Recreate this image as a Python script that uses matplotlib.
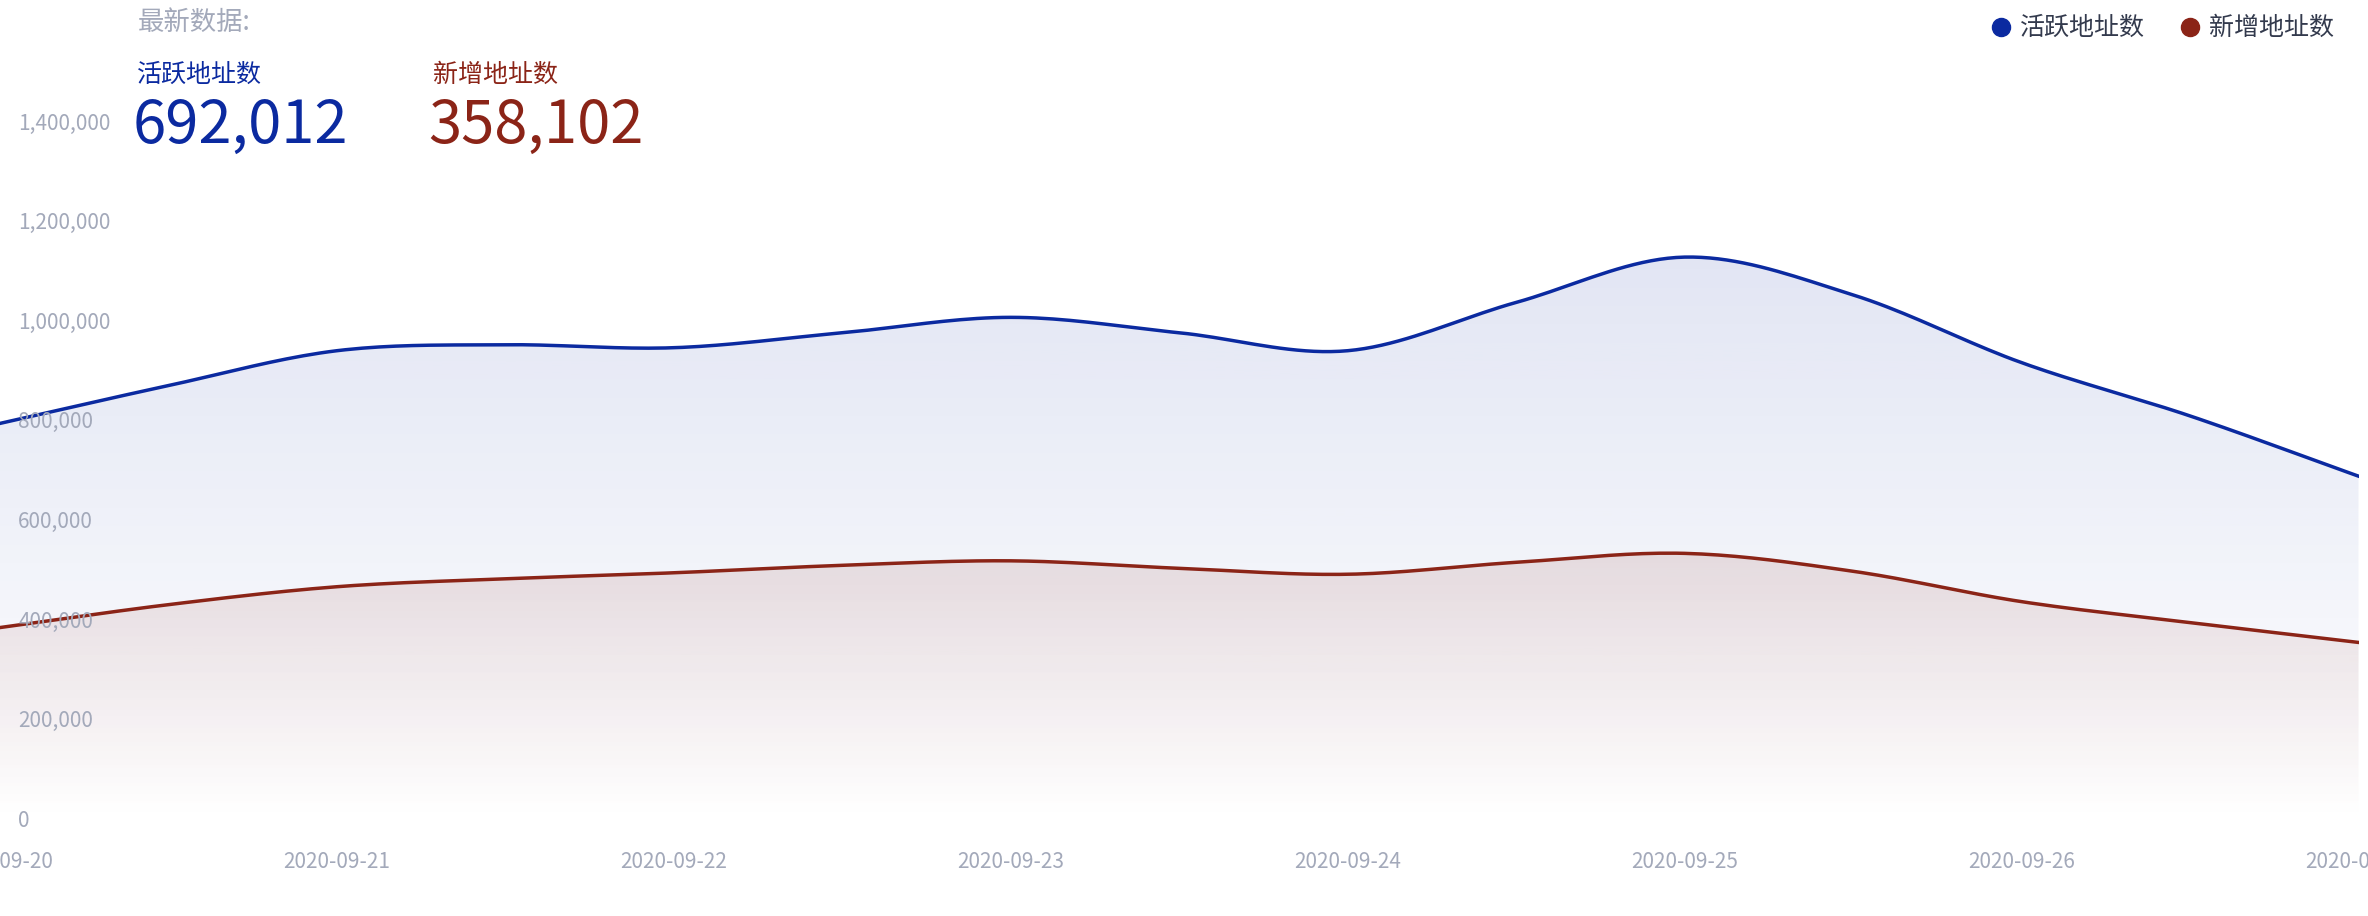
import numpy as np
import matplotlib.pyplot as plt
from matplotlib.patches import Polygon
from matplotlib.lines import Line2D

plt.rcParams['font.family'] = ['Noto Sans CJK SC', 'DejaVu Sans']

# half-day samples, 2020-09-20 .. 2020-09-27
days = np.arange(0, 7.01, 0.5)
active = [798000, 874000, 944000, 956000, 950000, 980000, 1011000, 980000,
          944000, 1041000, 1132000, 1056000, 920000, 813000, 692012]
new = [388000, 434000, 470000, 486000, 498000, 513000, 522000, 507000,
       495000, 519000, 537000, 501000, 440000, 398000, 358102]
date_labels = ['2020-09-20', '2020-09-21', '2020-09-22', '2020-09-23',
               '2020-09-24', '2020-09-25', '2020-09-26', '2020-09-27']
yticks = [0, 200000, 400000, 600000, 800000, 1000000, 1200000, 1400000]

BLUE = '#0b2aa0'
RED = '#8b2417'
GREY = '#a3a9ba'


def smooth(x, y, n=20):
    # catmull-rom curve through the points
    x = np.asarray(x, float); y = np.asarray(y, float)
    px = np.concatenate([[2*x[0]-x[1]], x, [2*x[-1]-x[-2]]])
    py = np.concatenate([[2*y[0]-y[1]], y, [2*y[-1]-y[-2]]])
    xs, ys = [], []
    t = np.linspace(0, 1, n, endpoint=False)
    for i in range(1, len(px)-2):
        for p, out in ((px, xs), (py, ys)):
            p0, p1, p2, p3 = p[i-1], p[i], p[i+1], p[i+2]
            out.extend(0.5*((2*p1) + (-p0+p2)*t + (2*p0-5*p1+4*p2-p3)*t**2
                            + (-p0+3*p1-3*p2+p3)*t**3))
    xs.append(x[-1]); ys.append(y[-1])
    return np.array(xs), np.array(ys)


fig = plt.figure(figsize=(23.68, 9.16), dpi=100)
ax = fig.add_axes([0, 0.104, 0.996, 0.761])
ax.set_xlim(0, 7)
ax.set_ylim(0, 1400000)

for vals, col in ((active, BLUE), (new, RED)):
    sx, sy = smooth(days, vals)
    top = max(sy)
    grad = np.linspace(0, 1, 256).reshape(-1, 1)
    rgb = np.array(plt.matplotlib.colors.to_rgb(col))
    img = np.zeros((256, 1, 4))
    img[..., :3] = rgb
    img[..., 3] = grad * 0.12
    im = ax.imshow(img, extent=[0, 7, 0, top], origin='lower', aspect='auto', zorder=1)
    verts = np.column_stack([np.r_[sx, sx[-1], sx[0]], np.r_[sy, 0, 0]])
    ax.add_patch(Polygon(verts, closed=True, facecolor='white', edgecolor='none', zorder=0.5))
    clip = Polygon(verts, closed=True, transform=ax.transData)
    im.set_clip_path(clip)
    ax.plot(sx, sy, color=col, lw=2.5, zorder=3)

ax.set_xlim(0, 7)
ax.set_ylim(0, 1400000)
for s in ax.spines.values():
    s.set_visible(False)
ax.set_yticks([])
ax.set_xticks(range(len(date_labels)))
ax.set_xticklabels(date_labels, color=GREY, fontsize=15)
ax.tick_params(axis='x', length=0, pad=22)
for v in yticks:
    ax.text(0.0077, v, f'{v:,}', transform=ax.get_yaxis_transform(),
            color=GREY, fontsize=15, va='center', ha='left', zorder=4)

fig.text(0.058, 0.975, '最新数据:', color=GREY, fontsize=19, va='center')
fig.text(0.058, 0.918, '活跃地址数', color=BLUE, fontsize=18, va='center')
fig.text(0.183, 0.918, '新增地址数', color=RED, fontsize=18, va='center')
fig.text(0.056, 0.862, '692,012', color=BLUE, fontsize=43, va='center')
fig.text(0.181, 0.862, '358,102', color=RED, fontsize=43, va='center')

for xm, col, lab in ((0.845, BLUE, '活跃地址数'), (0.925, RED, '新增地址数')):
    fig.add_artist(Line2D([xm], [0.97], marker='o', markersize=13, color=col,
                          transform=fig.transFigure))
    fig.text(xm + 0.008, 0.97, lab, color='#333a4d', fontsize=18, va='center')

fig.savefig('out.png', dpi=100)
